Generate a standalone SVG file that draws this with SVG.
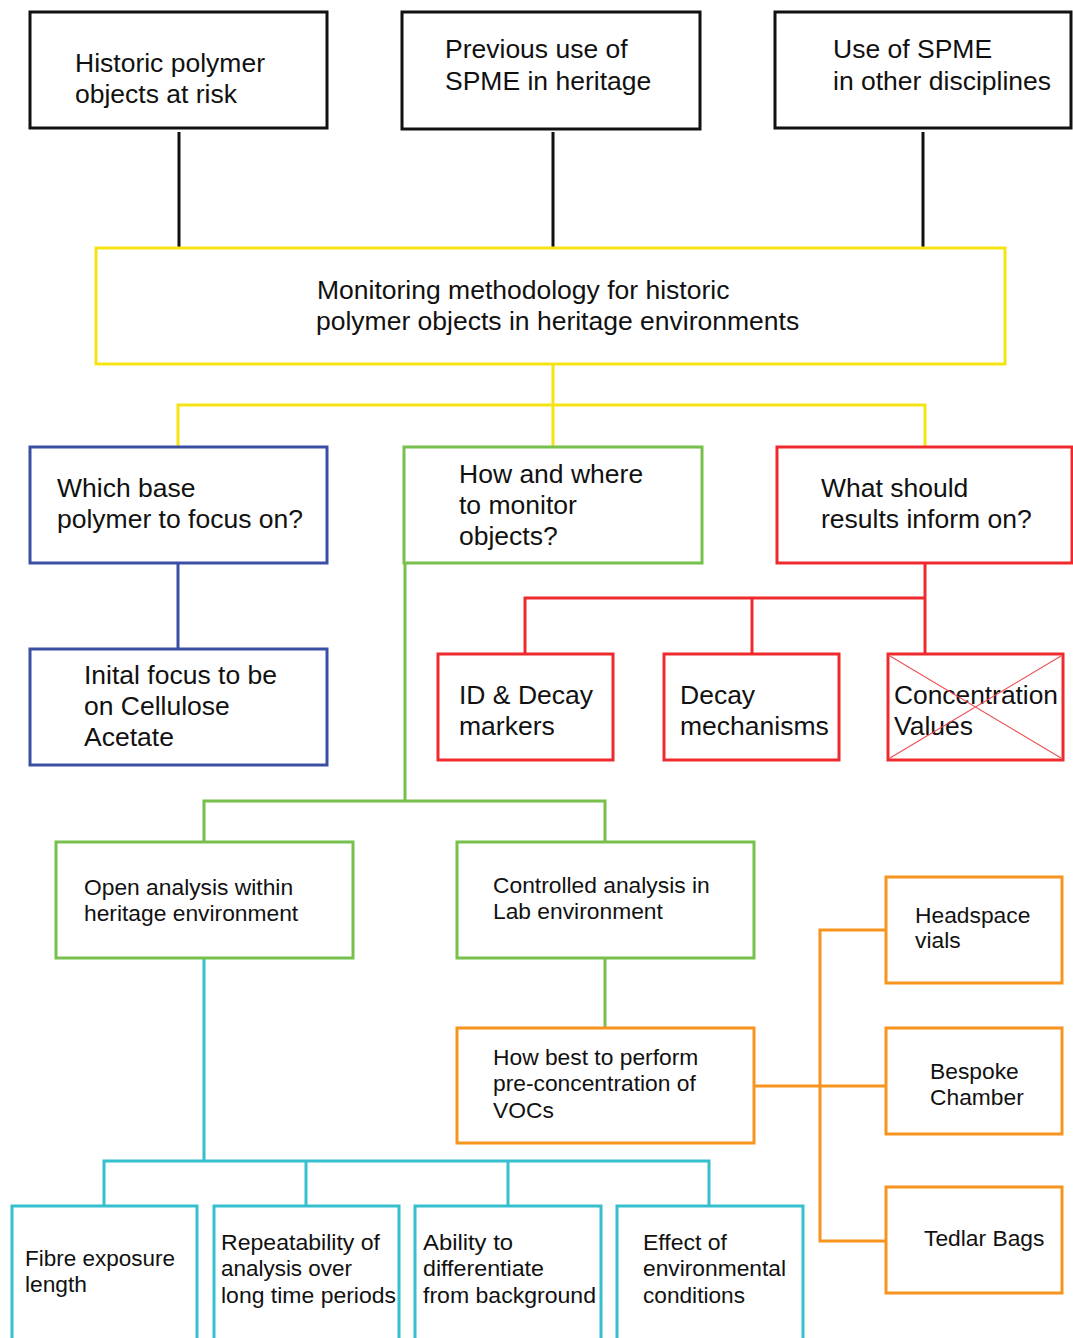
<svg xmlns="http://www.w3.org/2000/svg" width="1073" height="1338" viewBox="0 0 1073 1338">
<style>
  .bx { fill: #fff; stroke-width: 3; }
  .k { stroke: #111; }
  .y { stroke: #f5e313; }
  .b { stroke: #3a4fa3; }
  .g { stroke: #77c04b; }
  .r { stroke: #ee2a2e; }
  .o { stroke: #f7941d; }
  .c { stroke: #36bfcc; }
  .ln { fill: none; stroke-width: 3; }
  text { font-family: "Liberation Sans", Arial, sans-serif; fill: #111; }
  .t1 { font-size: 26.5px; }
  .t2 { font-size: 22.8px; }
</style>
<g id="connectors">
  <path class="ln k" d="M179 132V248M553 132V248M923 132V248"/>
  <path class="ln y" d="M553 364V446M178 446V405H925V446"/>
  <path class="ln b" d="M178 563V648"/>
  <path class="ln g" d="M405 563V801M204 842V801H605V842M605 958V1028"/>
  <path class="ln r" d="M925 563V653M525 653V598H925M752 598V653"/>
  <path class="ln o" d="M754 1086H886M886 930H820V1241H886"/>
  <path class="ln c" d="M204 958V1161M104 1206V1161H709V1206M306 1161V1206M508 1161V1206"/>
</g>
<g id="n1"><rect class="bx k" x="30" y="12" width="297" height="116"/><text class="t1" x="75" y="72">Historic polymer</text><text class="t1" x="75" y="103">objects at risk</text></g>
<g id="n2"><rect class="bx k" x="402" y="12" width="298" height="117"/><text class="t1" x="445" y="58">Previous use of</text><text class="t1" x="445" y="90">SPME in heritage</text></g>
<g id="n3"><rect class="bx k" x="775" y="12" width="296" height="116"/><text class="t1" x="833" y="58">Use of SPME</text><text class="t1" x="833" y="90">in other disciplines</text></g>
<g id="n4"><rect class="bx y" x="96" y="248" width="909" height="116"/><text class="t1" x="317" y="299">Monitoring methodology for historic</text><text class="t1" x="316" y="330">polymer objects in heritage environments</text></g>
<g id="n5"><rect class="bx b" x="30" y="447" width="297" height="116"/><text class="t1" x="57" y="497">Which base</text><text class="t1" x="57" y="528">polymer to focus on?</text></g>
<g id="n6"><rect class="bx b" x="30" y="649" width="297" height="116"/><text class="t1" x="84" y="684">Inital focus to be</text><text class="t1" x="84" y="715">on Cellulose</text><text class="t1" x="84" y="746">Acetate</text></g>
<g id="n7"><rect class="bx g" x="404" y="447" width="298" height="116"/><text class="t1" x="459" y="483">How and where</text><text class="t1" x="459" y="514">to monitor</text><text class="t1" x="459" y="545">objects?</text></g>
<g id="n8"><rect class="bx r" x="777" y="447" width="295" height="116"/><text class="t1" x="821" y="497">What should</text><text class="t1" x="821" y="528">results inform on?</text></g>
<g id="n9"><rect class="bx r" x="438" y="654" width="175" height="106"/><text class="t1" x="459" y="704">ID &amp; Decay</text><text class="t1" x="459" y="735">markers</text></g>
<g id="n10"><rect class="bx r" x="664" y="654" width="175" height="106"/><text class="t1" x="680" y="704">Decay</text><text class="t1" x="680" y="735">mechanisms</text></g>
<g id="n11"><rect class="bx r" x="888" y="654" width="175" height="106"/><text class="t1" x="894" y="704" textLength="164" lengthAdjust="spacingAndGlyphs">Concentration</text><text class="t1" x="894" y="735">Values</text><path d="M890 656L1061 758M1061 656L890 758" stroke="#ee5055" stroke-width="1.2" fill="none"/></g>
<g id="n12"><rect class="bx g" x="56" y="842" width="297" height="116"/><text class="t2" x="84" y="895">Open analysis within</text><text class="t2" x="84" y="921">heritage environment</text></g>
<g id="n13"><rect class="bx g" x="457" y="842" width="297" height="116"/><text class="t2" x="493" y="893">Controlled analysis in</text><text class="t2" x="493" y="919">Lab environment</text></g>
<g id="n14"><rect class="bx o" x="457" y="1028" width="297" height="115"/><text class="t2" x="493" y="1065">How best to perform</text><text class="t2" x="493" y="1091">pre-concentration of</text><text class="t2" x="493" y="1118">VOCs</text></g>
<g id="n15"><rect class="bx o" x="886" y="877" width="176" height="106"/><text class="t2" x="915" y="923">Headspace</text><text class="t2" x="915" y="948">vials</text></g>
<g id="n16"><rect class="bx o" x="886" y="1028" width="176" height="106"/><text class="t2" x="930" y="1079">Bespoke</text><text class="t2" x="930" y="1105">Chamber</text></g>
<g id="n17"><rect class="bx o" x="886" y="1187" width="176" height="106"/><text class="t2" x="924" y="1246">Tedlar Bags</text></g>
<g id="n18"><rect class="bx c" x="12" y="1206" width="185" height="140"/><text class="t2" x="25" y="1266" textLength="150" lengthAdjust="spacingAndGlyphs">Fibre exposure</text><text class="t2" x="25" y="1292" textLength="62" lengthAdjust="spacingAndGlyphs">length</text></g>
<g id="n19"><rect class="bx c" x="214" y="1206" width="185" height="140"/><text class="t2" x="221" y="1250" textLength="159" lengthAdjust="spacingAndGlyphs">Repeatability of</text><text class="t2" x="221" y="1276" textLength="131" lengthAdjust="spacingAndGlyphs">analysis over</text><text class="t2" x="221" y="1303" textLength="175" lengthAdjust="spacingAndGlyphs">long time periods</text></g>
<g id="n20"><rect class="bx c" x="415" y="1206" width="186" height="140"/><text class="t2" x="423" y="1250" textLength="90" lengthAdjust="spacingAndGlyphs">Ability to</text><text class="t2" x="423" y="1276" textLength="121" lengthAdjust="spacingAndGlyphs">differentiate</text><text class="t2" x="423" y="1303" textLength="173" lengthAdjust="spacingAndGlyphs">from background</text></g>
<g id="n21"><rect class="bx c" x="617" y="1206" width="186" height="140"/><text class="t2" x="643" y="1250" textLength="84" lengthAdjust="spacingAndGlyphs">Effect of</text><text class="t2" x="643" y="1276" textLength="143" lengthAdjust="spacingAndGlyphs">environmental</text><text class="t2" x="643" y="1303" textLength="102" lengthAdjust="spacingAndGlyphs">conditions</text></g>
</svg>
